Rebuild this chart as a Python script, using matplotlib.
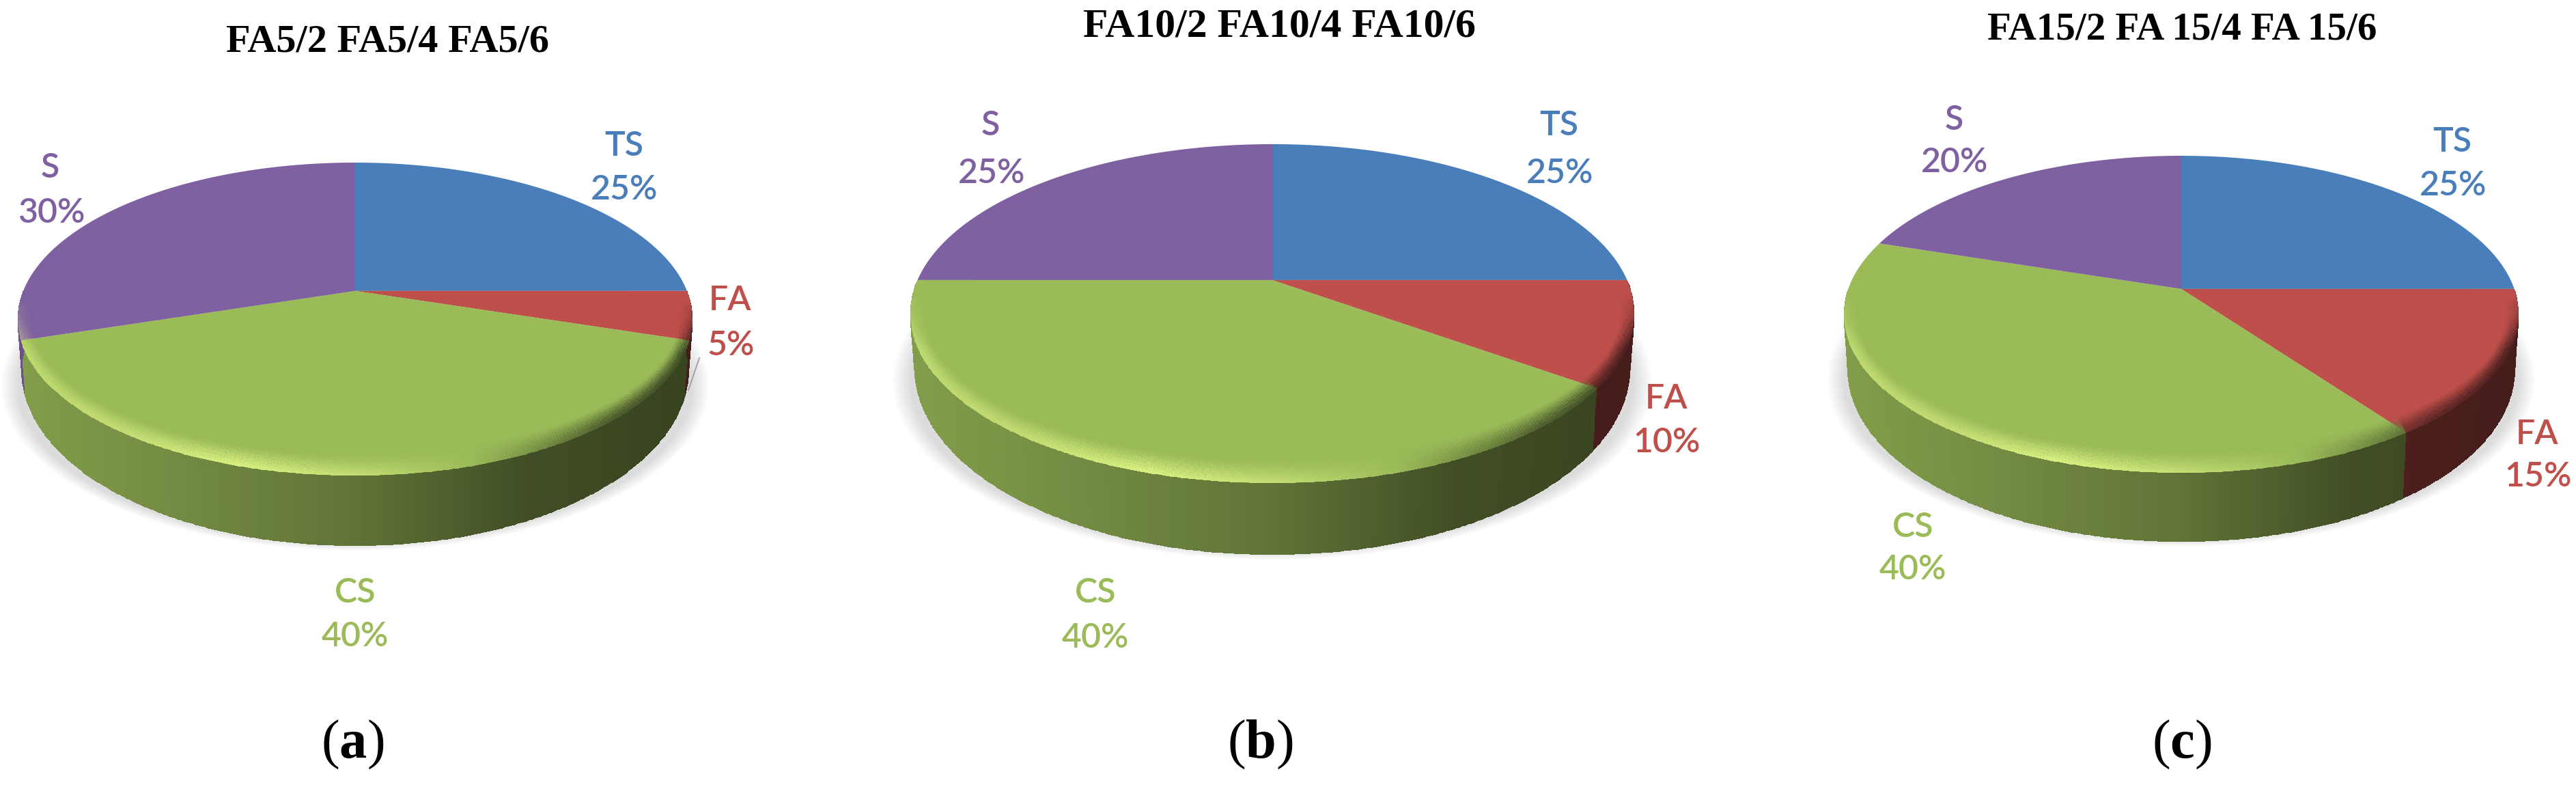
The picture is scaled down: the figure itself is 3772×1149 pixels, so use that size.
import numpy as np
import matplotlib
matplotlib.use("Agg")
import matplotlib.pyplot as plt
from matplotlib.path import Path
from matplotlib.transforms import Transform, Affine2D

# ---------- data ----------
categories = ["TS", "FA", "CS", "S"]
values_a = [25, 5, 40, 30]
values_b = [25, 10, 40, 25]
values_c = [25, 15, 40, 20]
titles = ["FA5/2 FA5/4 FA5/6", "FA10/2 FA10/4 FA10/6", "FA15/2 FA 15/4 FA 15/6"]
panel_letters = ["a", "b", "c"]
colors = ["#4A7EBB", "#BE4F4B", "#9BBB59", "#7F60A0"]

# ---------- layout (pixels of the output picture) ----------
W, H = 3773, 1149
geom = [  # cx, cy, rx, ry, apex tilt, side depth, front depth
    (520, 467, 494, 229, 0.18, 76, 103),
    (1863, 459, 530, 248, 0.198, 80, 105),
    (3194, 460, 494, 232, 0.16, 82, 101),
]
title_xy = [(568, 62), (1873, 40), (3195, 44)]
title_size = [42, 43, 41]
letter_xy = [(516, 1090), (1845, 1090), (3195, 1090)]
label_xy = [
    {"TS": ((914, 214), (914, 278)), "FA": ((1069, 440), (1070, 505)),
     "CS": ((520, 867), (520, 932)), "S": ((73, 245), (75, 311))},
    {"TS": ((2283, 183), (2284, 253)), "FA": ((2440, 584), (2441, 648)),
     "CS": ((1604, 867), (1604, 934)), "S": ((1450, 183), (1452, 253))},
    {"TS": ((3591, 207), (3592, 271)), "FA": ((3715, 636), (3717, 697)),
     "CS": ((2801, 771), (2801, 833)), "S": ((2861, 176), (2862, 238))},
]

plt.rcParams["mathtext.fontset"] = "custom"
plt.rcParams["mathtext.rm"] = "Liberation Serif"
plt.rcParams["mathtext.bf"] = "Liberation Serif:bold"


class DiscView(Transform):
    """Perspective view of the unit disc: a circle seen as an ellipse,
    with the disc centre moved towards the far edge."""
    input_dims = output_dims = 2
    is_separable = False
    has_inverse = False

    def __init__(self, cx, cy, rx, ry, t):
        super().__init__()
        self.p = (cx, cy, rx, ry, t)

    def normal(self, u, v):
        t = self.p[4]
        d = 1 + t * v
        return u * np.sqrt(1 - t * t) / d, (v + t) / d

    def transform_non_affine(self, xy):
        xy = np.asarray(xy, float)
        cx, cy, rx, ry, _ = self.p
        X, Y = self.normal(xy[:, 0], xy[:, 1])
        return np.column_stack([cx + rx * X, cy - ry * Y])

    def transform_path_non_affine(self, path):
        polys = path.transformed(Affine2D().scale(2000)).to_polygons(closed_only=True)
        pts = polys[0] / 2000
        return Path(self.transform_non_affine(pts), closed=True)


def slice_index(theta_deg, values):
    """Index of the slice at each angle; slices run clockwise from 90 degrees."""
    edges = np.cumsum(values) / np.sum(values)
    frac = ((90 - theta_deg) % 360) / 360
    return np.clip(np.searchsorted(edges, frac, side="right"), 0, len(values) - 1)


fig = plt.figure(figsize=(W / 100, H / 100), dpi=100, facecolor="white")
ax = fig.add_axes([0, 0, 1, 1])
rgb = np.array([matplotlib.colors.to_rgb(c) for c in colors])

for i, values in enumerate([values_a, values_b, values_c]):
    cx, cy, rx, ry, t, d_side, d_front = geom[i]
    view = DiscView(cx, cy, rx, ry, t)

    # soft ground shadow
    ph = np.linspace(0, 2 * np.pi, 240)
    for k in range(12):
        g = 1 + 0.0045 * (12 - k)
        ax.fill(cx + rx * 0.995 * g * np.cos(ph),
                cy + d_front * 0.85 + 10 + ry * g * np.sin(ph),
                color="#8a8a8a", alpha=0.022, lw=0, zorder=1)

    # side wall, shaded across the width
    th = np.linspace(180, 360, 361)
    centre = (th[:-1] + th[1:]) / 2
    u, v = np.cos(np.radians(th)), np.sin(np.radians(th))
    X, Y = view.normal(u, v)
    s = np.linspace(0, 1, 8)
    depth = d_side + (d_front - d_side) * np.clip(-Y, 0, 1)
    mx = cx + rx * np.outer(1 - 0.012 * s, X)
    my = cy - ry * np.outer(np.ones_like(s), Y) + np.outer(s, depth)
    idx = slice_index(centre, values)
    Xc = view.normal(np.cos(np.radians(centre)), np.sin(np.radians(centre)))[0]
    shade = np.interp(Xc, [-1, -0.7, 0, 0.5, 1], [0.84, 0.78, 0.62, 0.42, 0.36])
    wall = rgb[idx] * shade[:, None]
    wall = np.repeat(wall[None, :, :], len(s) - 1, axis=0)
    ax.pcolormesh(mx, my, wall, shading="flat", zorder=2, antialiased=False, rasterized=True)

    # top surface: the pie itself, seen through the perspective transform
    wedges, _ = ax.pie(values, colors=colors, startangle=90, counterclock=False,
                       wedgeprops=dict(linewidth=0))
    for w in wedges:
        w.set_transform(view + ax.transData)
        w.set_zorder(3)

    # lit or shaded bevel along the near rim
    th = np.linspace(0, 360, 721)
    centre = (th[:-1] + th[1:]) / 2
    X, Y = view.normal(np.cos(np.radians(th)), np.sin(np.radians(th)))
    s = np.linspace(0, 1, 13)
    bx = cx + rx * np.outer(1 - 0.042 * (1 - s), X)
    by = cy - ry * np.outer(1 - 0.14 * (1 - s), Y)
    Xc, Yc = view.normal(np.cos(np.radians(centre)), np.sin(np.radians(centre)))
    idx = slice_index(centre, values)
    light = np.interp(Xc, [-1, -0.7, -0.35, 0.0, 0.35, 0.75, 1],
                      [0.45, 0.5, 0.8, 0.55, 0.0, -0.5, -0.6])
    base = rgb[idx]
    rim = np.where(light[:, None] > 0,
                   base + (np.array([0.92, 1, 0.55]) - base) * light[:, None],
                   base * (1 + light[:, None]))
    front = np.clip((0.12 - Yc) / 0.35, 0, 1)
    sc = (s[:-1] + s[1:]) / 2
    rise = np.outer(sc ** 1.4, front)
    rgba = np.zeros((len(sc), len(centre), 4))
    rgba[..., :3] = rim
    rgba[..., 3] = rise
    ax.pcolormesh(bx, by, rgba, shading="flat", zorder=4, antialiased=False, rasterized=True)

    # labels
    for cat, val, col in zip(categories, values, colors):
        (nx, ny), (px, py) = label_xy[i][cat]
        ax.text(nx, ny, cat, color=col, family="Lato", fontsize=36, weight=600,
                ha="center", va="center", zorder=6)
        ax.text(px, py, f"{val}%", color=col, family="Lato", fontsize=36, weight=600,
                ha="center", va="center", zorder=6)

    ax.text(*title_xy[i], titles[i], family="Liberation Serif", weight="bold", fontsize=title_size[i],
            ha="center", va="center", color="black", zorder=6)
    ax.text(*letter_xy[i], rf"($\mathbf{{{panel_letters[i]}}}$)", family="Liberation Serif",
            fontsize=58, ha="center", va="center", color="black", zorder=6)

ax.plot([1024, 1008], [524, 571], color="#a6a6a6", lw=1.5, zorder=2)

ax.set_aspect("auto")
ax.set_xlim(0, W)
ax.set_ylim(H, 0)
ax.axis("off")
fig.savefig("out.png", dpi=100)
